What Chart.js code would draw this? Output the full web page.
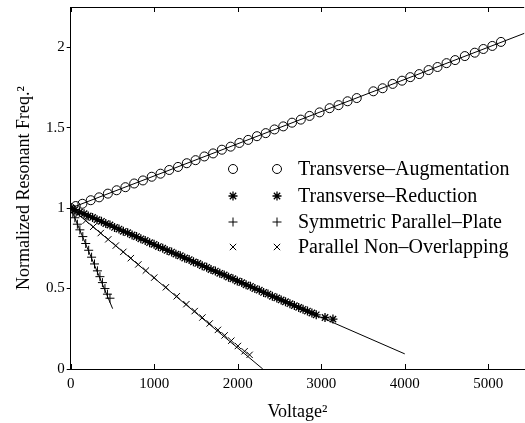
<!DOCTYPE html>
<html>
<head>
<meta charset="utf-8">
<script src="https://cdn.jsdelivr.net/npm/chart.js@4/dist/chart.umd.min.js"></script>
<style>
  html, body { margin: 0; padding: 0; background: #fff; overflow: hidden; }
  #wrap { width: 530px; height: 423px; }
</style>
</head>
<body>
<div id="wrap"><canvas id="chart"></canvas></div>
<script>
//tick labels
const xTicks = [0, 1000, 2000, 3000, 4000, 5000];
const yTicks = [0, 0.5, 1, 1.5, 2];
//legend names
const seriesNames = [
  "Transverse\u2013Augmentation",
  "Transverse\u2013Reduction",
  "Symmetric Parallel\u2013Plate",
  "Parallel Non\u2013Overlapping",
];
//Transverse-Augmentation (circles)
const augX = [0, 60, 140, 240, 340, 445, 550, 655, 760, 865, 970, 1075, 1180, 1285, 1390, 1495,
  1600, 1705, 1810, 1915, 2020, 2125, 2230, 2335, 2440, 2545, 2650, 2755, 2860, 2980, 3100, 3207,
  3315, 3425, 3624, 3735, 3855, 3967, 4066, 4173, 4285, 4392, 4500, 4603, 4719, 4838, 4941, 5048, 5152];
const augY = [1.000, 1.013, 1.027, 1.049, 1.067, 1.090, 1.111, 1.130, 1.153, 1.172, 1.195, 1.214,
  1.237, 1.256, 1.279, 1.298, 1.321, 1.340, 1.363, 1.382, 1.405, 1.424, 1.447, 1.466, 1.489, 1.508,
  1.531, 1.550, 1.573, 1.595, 1.621, 1.640, 1.664, 1.684, 1.726, 1.745, 1.772, 1.792, 1.814, 1.833,
  1.858, 1.877, 1.901, 1.920, 1.945, 1.966, 1.989, 2.008, 2.033];
//Transverse-Reduction (asterisks)
const redX = [0, 50, 105, 160, 210, 262, 315, 368, 420, 470, 525, 578, 630, 682, 735, 788, 840, 892,
  945, 998, 1050, 1102, 1155, 1208, 1260, 1312, 1365, 1418, 1470, 1522, 1575, 1628, 1680, 1732, 1785,
  1838, 1890, 1942, 1995, 2048, 2100, 2152, 2205, 2258, 2310, 2362, 2415, 2468, 2520, 2572, 2625,
  2678, 2730, 2782, 2835, 2888, 2940, 3045, 3140];
const redY = [1.000, 0.990, 0.975, 0.965, 0.951, 0.942, 0.928, 0.918, 0.904, 0.895, 0.880, 0.870,
  0.856, 0.847, 0.833, 0.823, 0.809, 0.799, 0.785, 0.775, 0.761, 0.751, 0.737, 0.727, 0.714, 0.704,
  0.690, 0.680, 0.666, 0.656, 0.642, 0.632, 0.618, 0.609, 0.595, 0.585, 0.571, 0.561, 0.547, 0.537,
  0.523, 0.514, 0.500, 0.490, 0.476, 0.466, 0.452, 0.442, 0.429, 0.418, 0.406, 0.394, 0.383, 0.371,
  0.360, 0.348, 0.337, 0.320, 0.310];
//Symmetric Parallel-Plate (+)
const symX = [0, 25, 50, 80, 110, 145, 180, 215, 250, 285, 320, 350, 380, 410, 440, 470];
const symY = [1.000, 0.970, 0.940, 0.900, 0.865, 0.823, 0.780, 0.738, 0.695, 0.653, 0.610, 0.574,
  0.537, 0.500, 0.465, 0.440];
//Parallel Non-Overlapping (x)
const parX = [0, 90, 180, 270, 360, 450, 540, 630, 720, 810, 900, 1000, 1140, 1270, 1385, 1485,
  1577, 1664, 1763, 1843, 1923, 2002, 2082, 2142];
const parY = [1.000, 0.962, 0.922, 0.884, 0.845, 0.806, 0.767, 0.728, 0.689, 0.650, 0.612, 0.568,
  0.508, 0.452, 0.403, 0.360, 0.320, 0.283, 0.243, 0.209, 0.176, 0.143, 0.110, 0.088];
//straight fit lines (end points)
const fitAugX = [0, 5500], fitAugY = [1, 2.1];
const fitRedX = [0, 4000], fitRedY = [1, 0.094];
const fitSymX = [0, 502], fitSymY = [1, 0.375];
const fitParX = [0, 2300], fitParY = [1, 0];

const toPoints = (xs, ys) => xs.map((x, i) => ({ x: x, y: ys[i] }));
const serif = "'Liberation Serif', 'Times New Roman', serif";

const markerSet = (name, xs, ys, style, r, bw) => ({
  label: name,
  data: toPoints(xs, ys),
  showLine: false,
  pointStyle: style,
  pointRadius: r,
  pointBorderWidth: bw,
  pointBorderColor: "#000",
  pointBackgroundColor: "rgba(0,0,0,0)",
});
const fitSet = (xs, ys) => ({
  fit: true,
  data: toPoints(xs, ys),
  showLine: true,
  borderColor: "#000",
  borderWidth: 1,
  pointRadius: 0,
});

//legend drawn inside the plot (marker, marker, text)
const insideLegend = {
  id: "insideLegend",
  afterDraw(chart) {
    const ctx = chart.ctx;
    const rowsY = [169, 196, 222, 247];
    let row = 0;
    ctx.save();
    ctx.font = "20px " + serif;
    ctx.textBaseline = "middle";
    chart.data.datasets.forEach((ds) => {
      if (ds.fit) return;
      const y = rowsY[row++];
      const opts = { pointStyle: ds.pointStyle, radius: ds.pointRadius, borderWidth: ds.pointBorderWidth, rotation: 0 };
      ctx.strokeStyle = "#000";
      ctx.fillStyle = "rgba(0,0,0,0)";
      ctx.lineWidth = ds.pointBorderWidth;
      [233, 277].forEach((x) => {
        Chart.helpers.drawPoint(ctx, opts, x, y);
      });
      ctx.fillStyle = "#000";
      ctx.fillText(ds.label, 298, y + 1);
    });
    ctx.restore();
  },
};

//frame on top and inward ticks on x
const frameTicks = {
  id: "frameTicks",
  afterDraw(chart) {
    const ctx = chart.ctx;
    const area = chart.chartArea;
    const xs = chart.scales.x;
    ctx.save();
    ctx.strokeStyle = "#000";
    ctx.lineWidth = 1;
    ctx.beginPath();
    ctx.moveTo(area.left, area.top + 0.5);
    ctx.lineTo(area.right, area.top + 0.5);
    xTicks.forEach((v) => {
      const px = Math.round(xs.getPixelForValue(v)) + 0.5;
      ctx.moveTo(px, area.bottom);
      ctx.lineTo(px, area.bottom - 5);
      ctx.moveTo(px, area.top);
      ctx.lineTo(px, area.top + 5);
    });
    ctx.stroke();
    ctx.restore();
  },
};

new Chart(document.getElementById("chart"), {
  type: "scatter",
  plugins: [insideLegend, frameTicks],
  data: {
    datasets: [
      markerSet(seriesNames[0], augX, augY, "circle", 4.5, 1),
      markerSet(seriesNames[1], redX, redY, "star", 4.5, 1.3),
      markerSet(seriesNames[2], symX, symY, "cross", 4.5, 1),
      markerSet(seriesNames[3], parX, parY, "crossRot", 4.5, 1),
      fitSet(fitAugX, fitAugY),
      fitSet(fitRedX, fitRedY),
      fitSet(fitSymX, fitSymY),
      fitSet(fitParX, fitParY),
    ],
  },
  options: {
    responsive: true,
    maintainAspectRatio: false,
    animation: false,
    layout: { padding: { top: 7, right: 0, left: 0, bottom: 0 } },
    plugins: {
      legend: { display: false },
      tooltip: { enabled: false },
    },
    scales: {
      x: {
        type: "linear",
        min: 0,
        max: 5430,
        afterBuildTicks: (scale) => { scale.ticks = xTicks.map((v) => ({ value: v })); },
        afterFit: (scale) => { scale.height = 54; scale.paddingRight = 0; scale.paddingLeft = 0; },
        grid: { display: false, drawTicks: false },
        border: { display: true, color: "#000", width: 1 },
        ticks: { color: "#000", padding: 6, font: { family: serif, size: 15 }, callback: (v) => String(v) },
        title: {
          display: true,
          text: "Voltage\u00b2",
          color: "#000",
          font: { family: serif, size: 18 },
          padding: { top: 0, bottom: 0 },
        },
      },
      y: {
        type: "linear",
        min: 0,
        max: 2.25,
        afterBuildTicks: (scale) => { scale.ticks = yTicks.map((v) => ({ value: v })); },
        afterFit: (scale) => { scale.width = 70.7; scale.paddingTop = 0; scale.paddingBottom = 0; },
        grid: { display: true, drawOnChartArea: false, drawTicks: true, tickLength: 4, color: "#000" },
        border: { display: true, color: "#000", width: 1 },
        ticks: { color: "#000", padding: 2, font: { family: serif, size: 15 }, callback: (v) => String(v) },
        title: {
          display: true,
          text: "Normalized Resonant Freq.\u00b2",
          color: "#000",
          font: { family: serif, size: 18 },
          padding: { top: 13, bottom: 0 },
        },
      },
    },
  },
});
</script>
</body>
</html>
